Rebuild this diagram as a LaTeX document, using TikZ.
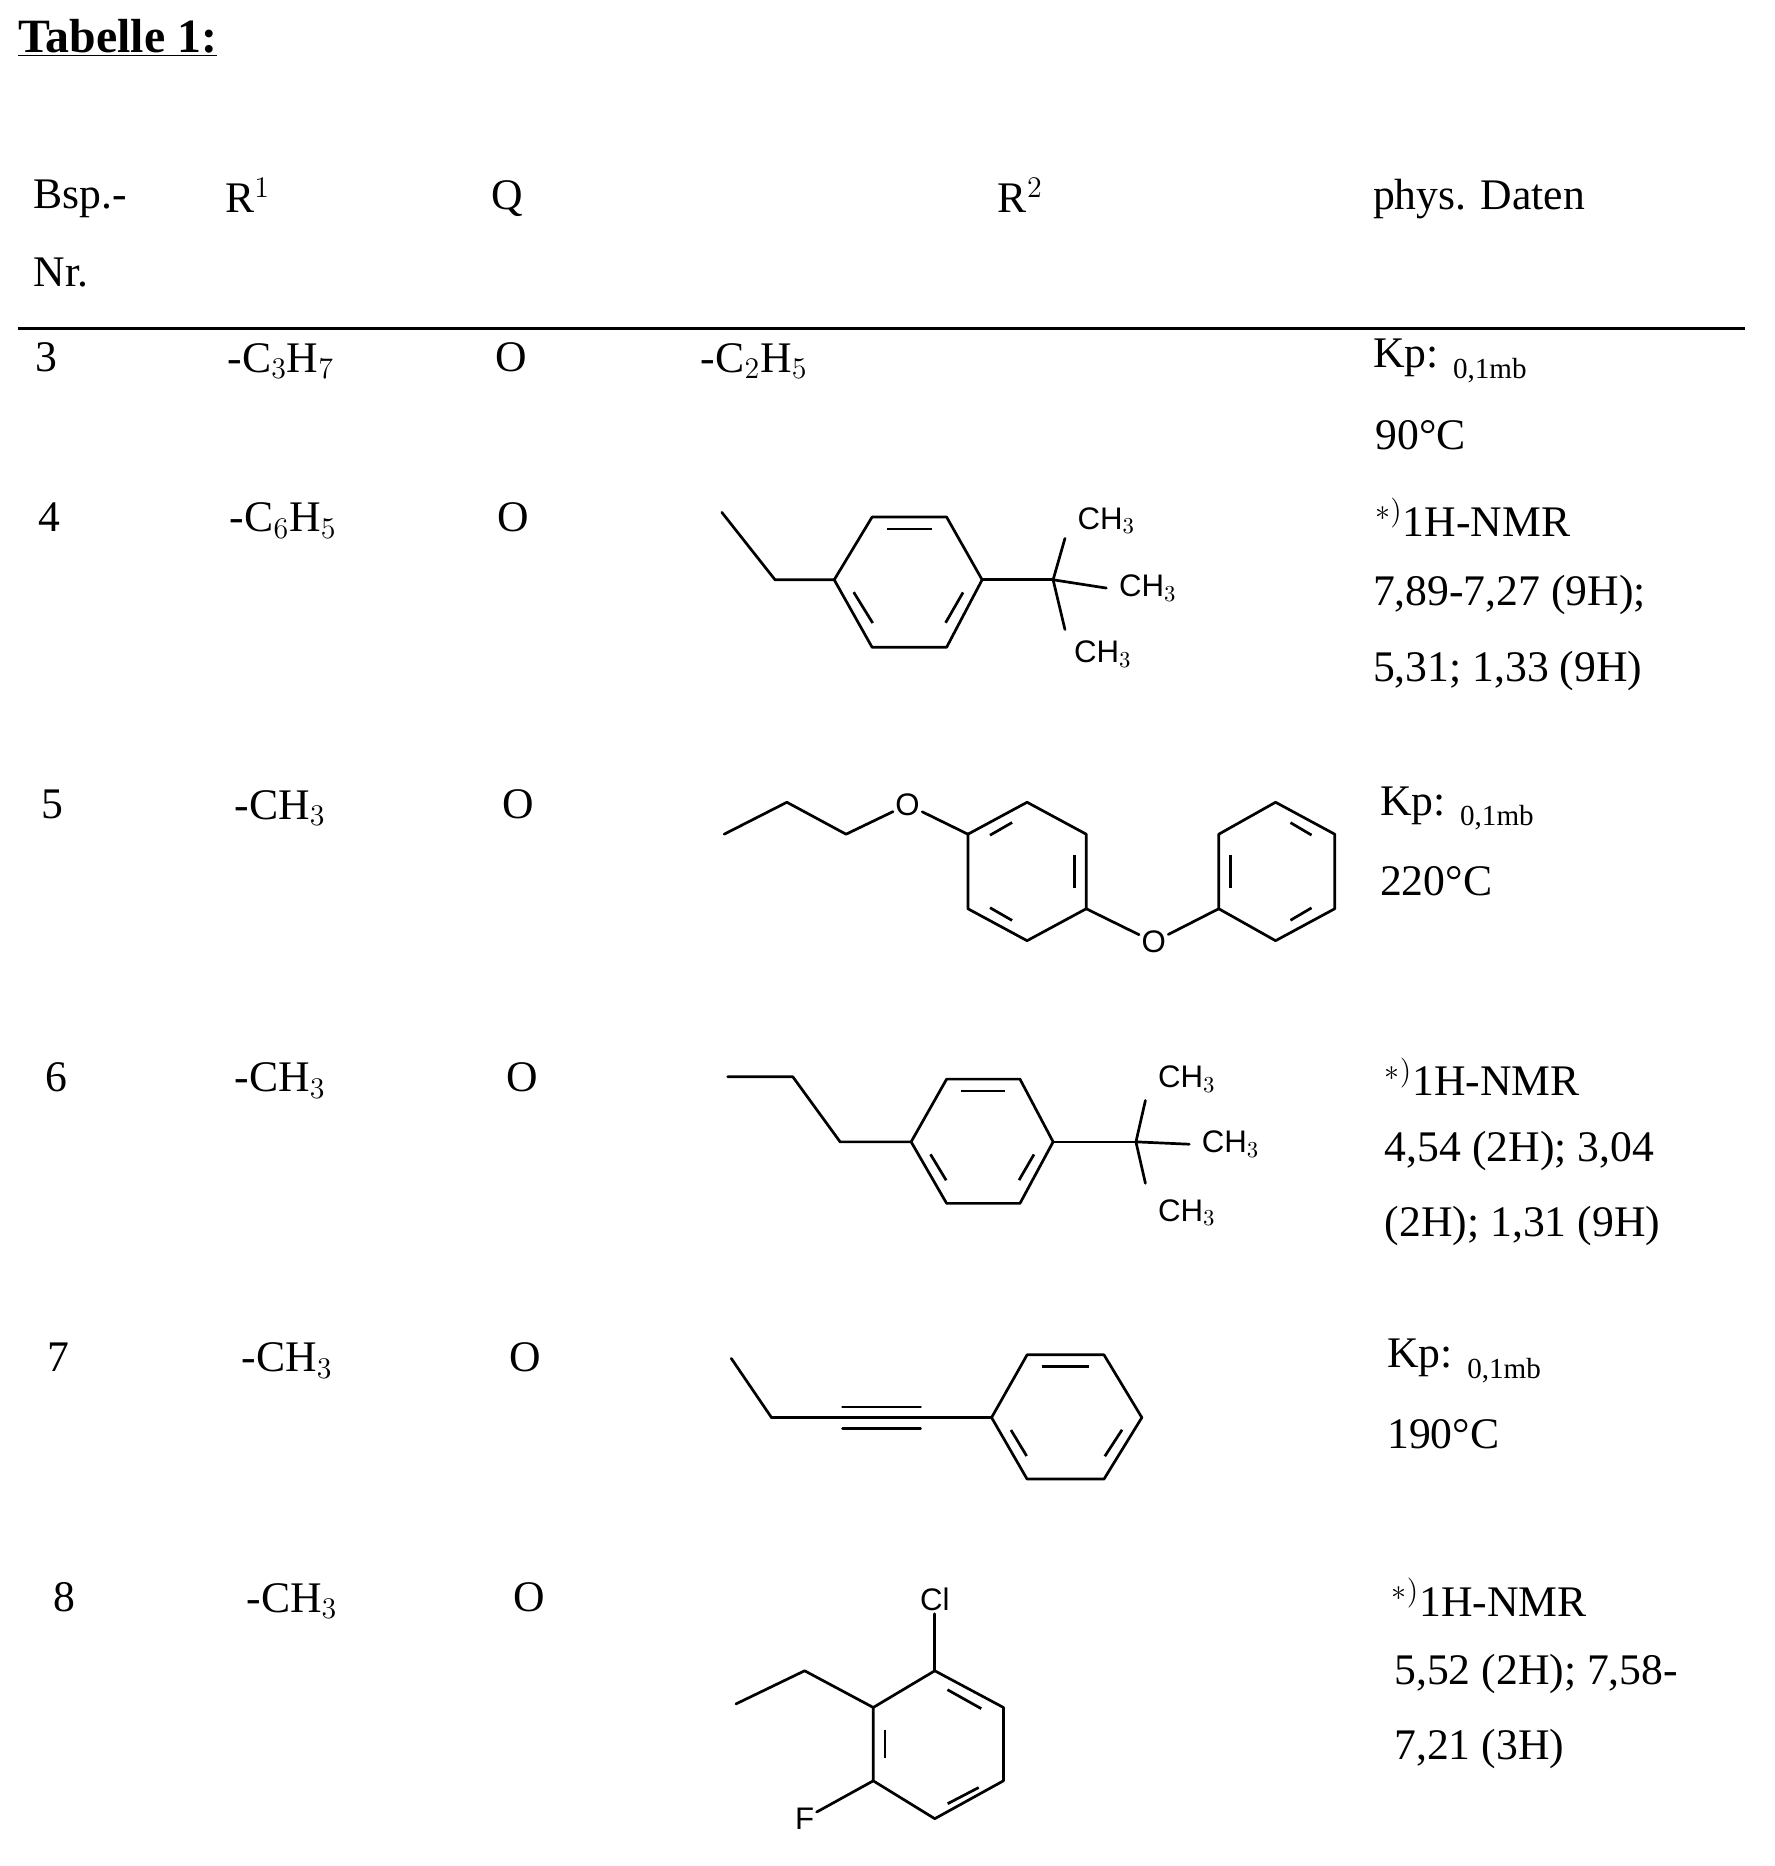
\documentclass[tikz,border=0pt]{standalone}
\usepackage{fontspec}
\setmainfont{Liberation Serif}
\newfontfamily\chemfont{Liberation Sans}
\begin{document}
\begin{tikzpicture}[x=0.02cm,y=-0.02cm,
  txt/.style={anchor=west,inner sep=0pt,font=\fontsize{21}{24}\selectfont},
  lab/.style={inner sep=1pt,font=\chemfont\fontsize{15}{17}\selectfont},
  bond/.style={line width=1.3pt,line cap=round,line join=round},
  dbl/.style={line width=1.3pt,shorten >=7pt,shorten <=7pt}]
\useasboundingbox (0,0) rectangle (1500,1577);
\node[txt,font=\bfseries\fontsize{23}{26}\selectfont] (title) at (15,32) {\underline{Tabelle 1:}};
\node[txt] (h1) at (28,168) {Bsp.-};
\node[txt] (h1b) at (28,230) {Nr.};
\node[txt] (h2) at (190,165) {R$^1$};
\node[txt] (h3) at (415,168) {Q};
\node[txt] (h4) at (843,165) {R$^2$};
\node[txt] (h5) at (1160,168) {phys. Daten};
\draw[line width=1.4pt] (15,278) -- (1475,278);
% row 3
\node[txt] (n3) at (30,302) {3};
\node[txt] (r3) at (192,305) {-C$_3$H$_7$};
\node[txt] (q3) at (418,302) {O};
\node[txt] (s3) at (592,305) {-C$_2$H$_5$};
\node[txt] (p3) at (1160,305) {Kp: {\fontsize{14}{16}\selectfont\raisebox{-5pt}{0,1mb}}};
\node[txt] (p3b) at (1162,368) {90°C};
% row 4
\node[txt] (n4) at (32,437) {4};
\node[txt] (r4) at (194,440) {-C$_6$H$_5$};
\node[txt] (q4) at (420,437) {O};
\node[txt] (p4) at (1162,437) {$^{*)}$1H-NMR};
\node[txt] (p4b) at (1160,503) {7,89-7,27 (9H);};
\node[txt] (p4c) at (1160,567) {5,31; 1,33 (9H)};
\draw[bond] (610,433)--(655,490)--(705,490);
\draw[bond] (705,490)--(737,437)--(800,437)--(830,490)--(800,547)--(737,547)--cycle;
\draw[dbl] (737,447)--(800,447); \draw[dbl] (820,490)--(793,537); \draw[dbl] (715,490)--(744,537);
\draw[bond] (830,490)--(890,490);
\draw[bond] (900,455)--(890,490)--(935,497); \draw[bond] (890,490)--(900,532);
\node[lab] (c41) at (935,440) {CH$_3$};
\node[lab] (c42) at (970,497) {CH$_3$};
\node[lab] (c43) at (932,553) {CH$_3$};
% row 5
\node[txt] (n5) at (35,680) {5};
\node[txt] (r5) at (198,683) {-CH$_3$};
\node[txt] (q5) at (424,680) {O};
\node[txt] (p5) at (1166,683) {Kp: {\fontsize{14}{16}\selectfont\raisebox{-5pt}{0,1mb}}};
\node[txt] (p5b) at (1166,745) {220°C};
\node[lab] (o51) at (767,680) {O};
\node[lab] (o52) at (975,796) {O};
\draw[bond] (612,705)--(665,678)--(715,705)--(o51);
\draw[bond] (o51)--(818,705);
\draw[bond] (818,705)--(868,678)--(918,705)--(918,768)--(868,795)--(818,768)--cycle;
\draw[dbl] (826,712)--(866,689); \draw[dbl] (908,710)--(908,763); \draw[dbl] (826,761)--(866,784);
\draw[bond] (918,768)--(o52)--(1030,768);
\draw[bond] (1030,705)--(1078,678)--(1128,705)--(1128,768)--(1078,795)--(1030,768)--cycle;
\draw[dbl] (1040,710)--(1040,763); \draw[dbl] (1080,689)--(1119,712); \draw[dbl] (1119,761)--(1080,784);
% row 6
\node[txt] (n6) at (38,910) {6};
\node[txt] (r6) at (198,913) {-CH$_3$};
\node[txt] (q6) at (428,910) {O};
\node[txt] (p6) at (1170,910) {$^{*)}$1H-NMR};
\node[txt] (p6b) at (1170,973) {4,54 (2H); 3,04};
\node[txt] (p6c) at (1170,1036) {(2H); 1,31 (9H)};
\draw[bond] (615,910)--(670,910)--(710,965)--(770,965);
\draw[bond] (770,965)--(800,912)--(862,912)--(890,965)--(862,1017)--(800,1017)--cycle;
\draw[dbl] (800,922)--(862,922); \draw[dbl] (880,965)--(855,1008); \draw[dbl] (780,965)--(806,1008);
\draw[bond] (890,965)--(960,965);
\draw[bond] (968,930)--(960,965)--(1005,967); \draw[bond] (960,965)--(968,1000);
\node[lab] (c61) at (1003,912) {CH$_3$};
\node[lab] (c62) at (1040,967) {CH$_3$};
\node[lab] (c63) at (1003,1025) {CH$_3$};
% row 7
\node[txt] (n7) at (40,1147) {7};
\node[txt] (r7) at (204,1150) {-CH$_3$};
\node[txt] (q7) at (430,1147) {O};
\node[txt] (p7) at (1172,1150) {Kp: {\fontsize{14}{16}\selectfont\raisebox{-5pt}{0,1mb}}};
\node[txt] (p7b) at (1172,1212) {190°C};
\draw[bond] (618,1148)--(652,1198)--(838,1198);
\draw[bond] (712,1189)--(778,1189); \draw[bond] (712,1207)--(778,1207);
\draw[bond] (838,1198)--(868,1145)--(933,1145)--(965,1198)--(933,1250)--(868,1250)--cycle;
\draw[dbl] (868,1155)--(933,1155); \draw[dbl] (955,1198)--(927,1241); \draw[dbl] (848,1198)--(874,1241);
% row 8
\node[txt] (n8) at (45,1350) {8};
\node[txt] (r8) at (208,1353) {-CH$_3$};
\node[txt] (q8) at (434,1350) {O};
\node[txt] (p8) at (1176,1350) {$^{*)}$1H-NMR};
\node[txt] (p8b) at (1178,1415) {5,52 (2H); 7,58-};
\node[txt] (p8c) at (1178,1478) {7,21 (3H)};
\node[lab] (cl) at (790,1352) {Cl};
\node[lab] (f) at (680,1537) {F};
\draw[bond] (622,1440)--(680,1412)--(738,1443);
\draw[bond] (738,1443)--(790,1412)--(848,1443)--(848,1505)--(790,1537)--(738,1505)--cycle;
\draw[dbl] (748,1450)--(748,1498); \draw[dbl] (790,1422)--(840,1450); \draw[dbl] (838,1505)--(790,1530);
\draw[bond] (790,1412)--(cl); \draw[bond] (738,1505)--(f);
\end{tikzpicture}
\end{document}
